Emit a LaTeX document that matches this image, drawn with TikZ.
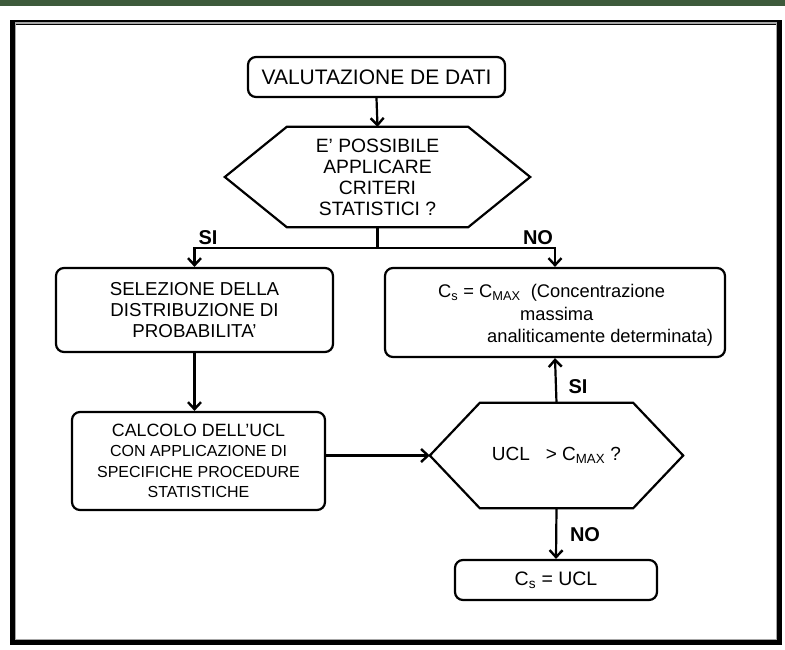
\documentclass[tikz,border=0pt]{standalone}
\usepackage{fontspec}
\setmainfont{Liberation Sans}
\usetikzlibrary{arrows.meta,calc}
\definecolor{bargreen}{HTML}{3D5A3B}
\tikzset{
  box/.style={draw=black, line width=2.2pt, rounded corners=8pt, align=center, inner sep=0pt},
  hexbox/.style={align=center, inner sep=0pt},
  hexline/.style={draw=black, line width=2.2pt, line join=miter},
  conn/.style={draw=black, line width=2.2pt, -{Straight Barb[length=7pt,width=13pt,line width=2.4pt]}},
  plain/.style={draw=black, line width=2.2pt},
  lbl/.style={font=\fontsize{20}{22}\selectfont\bfseries, inner sep=0pt}
}
\begin{document}
\begin{tikzpicture}[x=1pt,y=-1pt]
\useasboundingbox (0,0) rectangle (785,649);
\fill[bargreen] (0,0) rectangle (785,5.5);
% frame
\draw[black, line width=5pt] (12.5,22.5) rectangle (779.5,642.5);
\draw[gray!70, line width=1.2pt] (15.6,23) rectangle (776.4,639.4);

% nodes
\node[box, minimum width=257pt, minimum height=40pt, font=\fontsize{21}{24}\selectfont] (val) at (376.5,77) {VALUTAZIONE DE DATI};

\node[hexbox, minimum width=305pt, minimum height=100pt, font=\fontsize{19.3}{21}\selectfont] (h1) at (377.5,177)
  {E' POSSIBILE\\APPLICARE\\CRITERI\\STATISTICI ?};
\draw[hexline] ($(h1.north west)+(62,0)$) -- ($(h1.north east)+(-62,0)$) -- (h1.east)
  -- ($(h1.south east)+(-62,0)$) -- ($(h1.south west)+(62,0)$) -- (h1.west) -- cycle;

\node[box, minimum width=277pt, minimum height=84pt, font=\fontsize{18.7}{21}\selectfont] (sel) at (194.5,310)
  {SELEZIONE DELLA\\DISTRIBUZIONE DI\\PROBABILITA'};

\node[box, minimum width=340pt, minimum height=89pt] (cmax) at (555,312.5) {};
\node[align=left, anchor=west, inner sep=0pt, font=\fontsize{18.3}{22.5}\selectfont] (cmaxtxt) at (438,315.5)
  {C\textsubscript{s} = C\textsubscript{MAX}~~(Concentrazione\\\hspace*{82pt}massima\\\hspace*{49pt}analiticamente determinata)};

\node[box, minimum width=253pt, minimum height=98pt, font=\fontsize{16}{20.3}\selectfont] (calc) at (198.5,461)
  {{\fontsize{17.8}{20}\selectfont CALCOLO DELL'UCL}\\
   CON APPLICAZIONE DI\\
   SPECIFICHE PROCEDURE\\
   STATISTICHE};

\node[hexbox, minimum width=253pt, minimum height=105pt, font=\fontsize{19}{21}\selectfont] (h2) at (556.5,455.5)
  {UCL~~ > C\textsubscript{MAX} ?};
\draw[hexline] ($(h2.north west)+(50,0)$) -- ($(h2.north east)+(-50,0)$) -- (h2.east)
  -- ($(h2.south east)+(-50,0)$) -- ($(h2.south west)+(50,0)$) -- (h2.west) -- cycle;

\node[box, minimum width=202pt, minimum height=40pt, font=\fontsize{19.5}{21}\selectfont] (ucl) at (556,580)
  {C\textsubscript{s} = UCL};

% connectors
\draw[conn] (val.south) -- (h1.north);
\coordinate (br) at (377.5,248);
\draw[plain] (h1.south) -- (br);
\draw[conn] (br) -| (sel.north);
\draw[conn] (br) -| (cmax.north);
\node[lbl] (si1) at (208,238) {SI};
\node[lbl] (no1) at (538,238) {NO};

\draw[conn] (sel.south) -- (sel.south |- calc.north);
\draw[conn] (calc.east |- h2.west) -- (h2.west);
\draw[conn] (h2.north) -- (cmax.south);
\node[lbl] (si2) at (578,387) {SI};
\draw[conn] (h2.south) -- (ucl.north);
\node[lbl] (no2) at (585,535) {NO};
\end{tikzpicture}
\end{document}
